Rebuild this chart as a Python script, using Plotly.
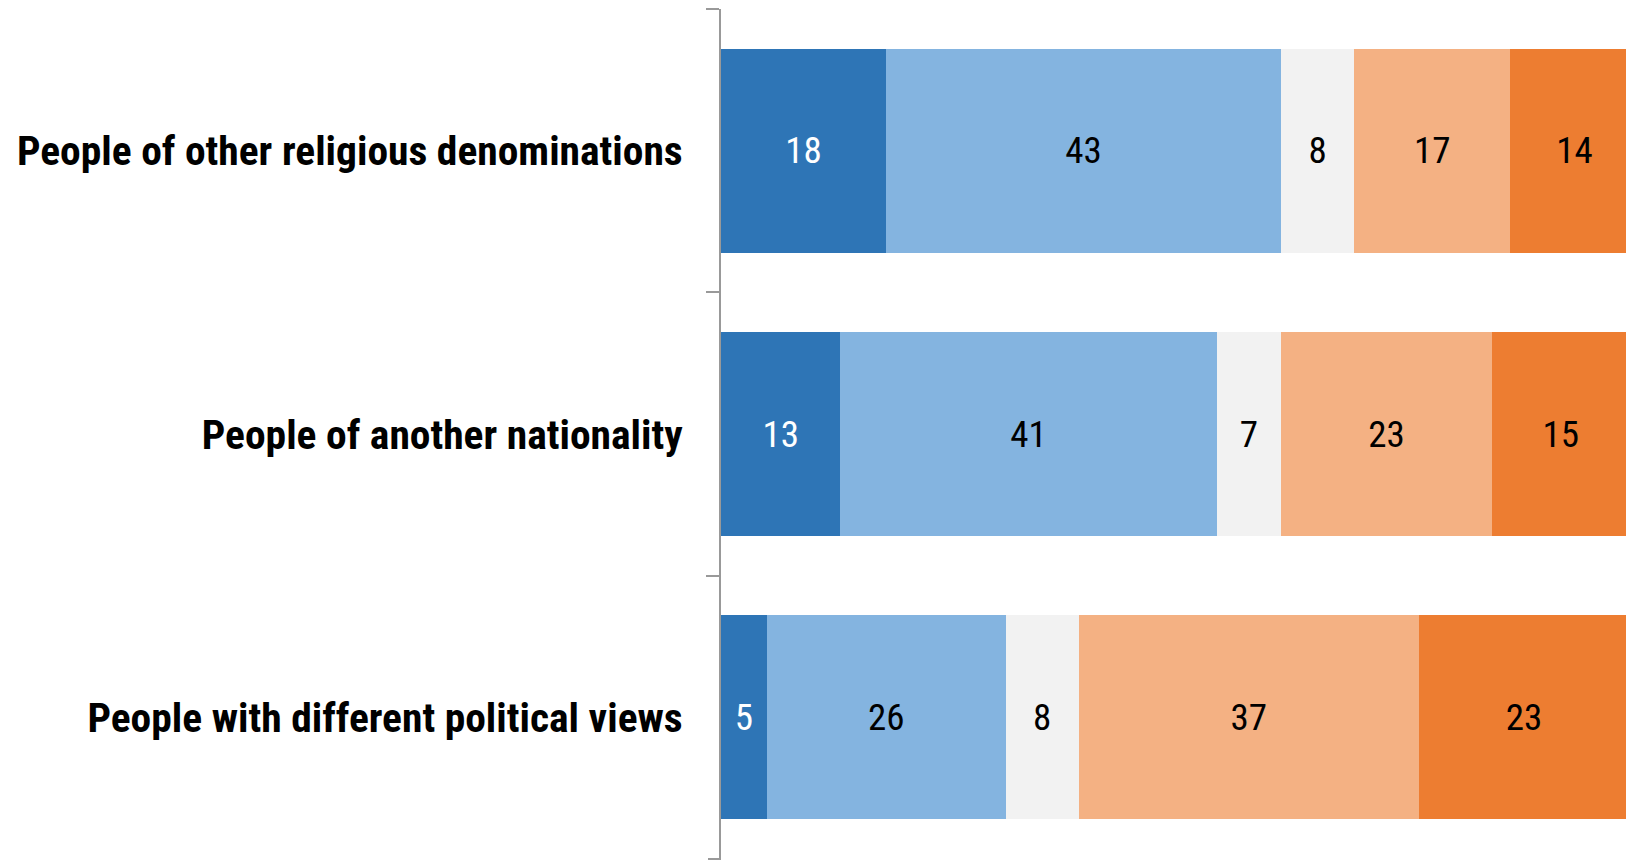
import plotly.graph_objects as go

categories = ["People of other religious denominations",
              "People of another nationality",
              "People with different political views"]
series_names = ["Very favorable", "Somewhat favorable", "Neither", "Somewhat unfavorable", "Very unfavorable"]
very_fav = [18, 13, 5]
some_fav = [43, 41, 26]
neither = [8, 7, 8]
some_unfav = [17, 23, 37]
very_unfav = [14, 15, 23]

series_values = [very_fav, some_fav, neither, some_unfav, very_unfav]
colors = ["#2E75B6", "#84B4E0", "#F2F2F2", "#F4B183", "#ED7D31"]
text_colors = ["white", "black", "black", "black", "black"]

FONT = "Liberation Sans Narrow, Arial Narrow, Roboto Condensed, DejaVu Sans Condensed, sans-serif"
AXIS_GRAY = "#999999"
PLOT_W = 1626 - 721

fig = go.Figure()
for name, vals, col, tcol in zip(series_names, series_values, colors, text_colors):
    fig.add_trace(go.Bar(
        y=categories, x=vals, name=name, orientation="h",
        marker=dict(color=col, line=dict(width=0)),
        text=[str(v) for v in vals], textposition="inside",
        insidetextanchor="middle",
        textfont=dict(family=FONT, size=37, color=tcol),
        constraintext="none", cliponaxis=True,
    ))

# closing tick at the bottom end of the category axis
fig.add_shape(type="line", xref="paper", yref="paper",
              x0=-13 / PLOT_W, x1=0, y0=0, y1=0,
              line=dict(color=AXIS_GRAY, width=2), layer="above")

fig.update_layout(
    barmode="stack", bargap=0.28, showlegend=False,
    width=1626, height=861,
    margin=dict(l=721, r=0, t=9, b=2),
    plot_bgcolor="white", paper_bgcolor="white",
    uniformtext=dict(mode=False),
    xaxis=dict(range=[0, 98.6], visible=False, fixedrange=True),
    yaxis=dict(autorange="reversed", showline=True, linecolor=AXIS_GRAY, linewidth=2,
               ticks="outside", ticklen=13, tickcolor=AXIS_GRAY, tickwidth=2,
               tickson="boundaries", ticklabelstandoff=28,
               tickfont=dict(family=FONT, size=41.5, color="black", weight="bold"),
               showgrid=False, zeroline=False, fixedrange=True),
)

fig.write_html("out.html", config={"displayModeBar": False, "staticPlot": True},
               post_script="document.body.style.margin='0';document.body.style.overflow='hidden';")
